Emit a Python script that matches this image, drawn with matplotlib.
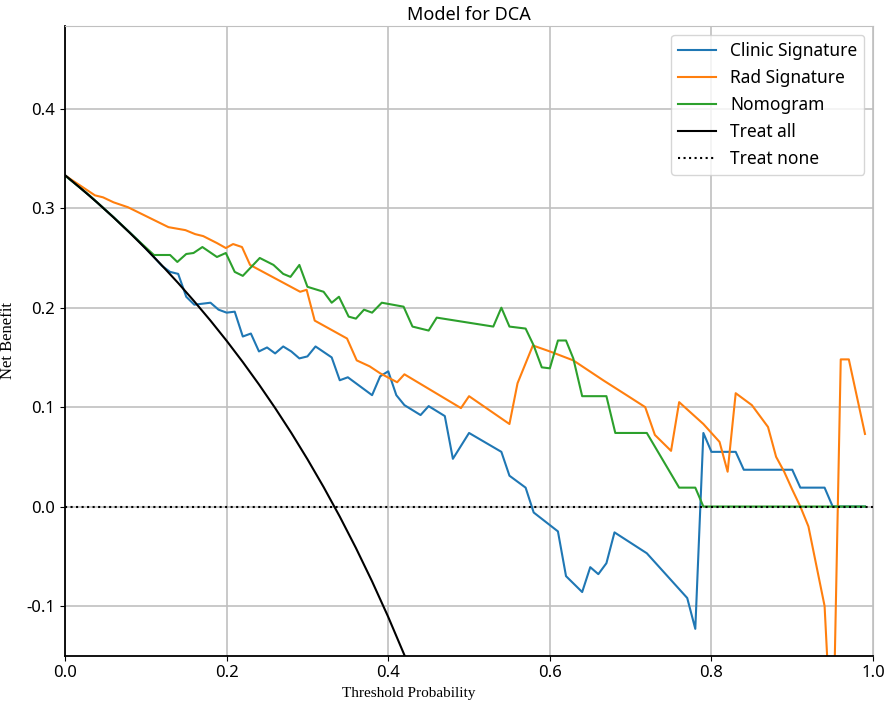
import matplotlib
matplotlib.use('Agg')
import matplotlib.pyplot as plt

plt.rcParams['font.family'] = ['Noto Sans', 'DejaVu Sans']
plt.rcParams['axes.unicode_minus'] = False

# threshold / net benefit
clinic_x = [0.0, 0.03, 0.06, 0.09, 0.11, 0.12, 0.13, 0.14, 0.15, 0.16, 0.17, 0.18,
            0.19, 0.20, 0.21, 0.22, 0.23, 0.24, 0.25, 0.26, 0.27, 0.28, 0.29, 0.30,
            0.31, 0.33, 0.34, 0.35, 0.38, 0.39, 0.40, 0.41, 0.42, 0.44, 0.45, 0.47,
            0.48, 0.50, 0.54, 0.55, 0.57, 0.58, 0.61, 0.62, 0.64, 0.65, 0.66, 0.67,
            0.68, 0.72, 0.75, 0.77, 0.78, 0.79, 0.80, 0.83, 0.84, 0.90, 0.91, 0.94,
            0.95, 0.99]
clinic_y = [0.333, 0.313, 0.291, 0.268, 0.251, 0.242, 0.236, 0.234, 0.211, 0.203,
            0.204, 0.205, 0.198, 0.195, 0.196, 0.171, 0.174, 0.156, 0.160, 0.154,
            0.161, 0.156, 0.149, 0.151, 0.161, 0.150, 0.127, 0.130, 0.112, 0.131,
            0.136, 0.112, 0.102, 0.092, 0.101, 0.091, 0.048, 0.074, 0.055, 0.031,
            0.019, -0.006, -0.025, -0.070, -0.086, -0.061, -0.068, -0.057, -0.026,
            -0.047, -0.074, -0.092, -0.123, 0.074, 0.055, 0.055, 0.037, 0.037,
            0.019, 0.019, 0.0, 0.0]

rad_x = [0.0, 0.037, 0.047, 0.06, 0.078, 0.128, 0.149, 0.161, 0.171, 0.188, 0.199,
         0.208, 0.219, 0.229, 0.291, 0.299, 0.309, 0.349, 0.361, 0.377, 0.39, 0.411,
         0.42, 0.49, 0.50, 0.55, 0.56, 0.579, 0.60, 0.629, 0.666, 0.695, 0.718,
         0.73, 0.75, 0.76, 0.79, 0.81, 0.82, 0.83, 0.85, 0.87, 0.88, 0.89, 0.90,
         0.91, 0.92, 0.93, 0.94, 0.95, 0.96, 0.97, 0.99]
rad_y = [0.333, 0.313, 0.311, 0.306, 0.301, 0.281, 0.278, 0.274, 0.272, 0.265, 0.260,
         0.264, 0.261, 0.243, 0.216, 0.218, 0.187, 0.169, 0.147, 0.141, 0.134, 0.125,
         0.133, 0.099, 0.111, 0.083, 0.124, 0.162, 0.156, 0.147, 0.127, 0.112, 0.100,
         0.072, 0.056, 0.105, 0.083, 0.065, 0.035, 0.114, 0.102, 0.080, 0.050, 0.035,
         0.017, 0.0, -0.020, -0.060, -0.100, -0.260, 0.148, 0.148, 0.073]

nomo_x = [0.0, 0.03, 0.06, 0.09, 0.11, 0.13, 0.139, 0.15, 0.159, 0.17, 0.188, 0.199,
          0.21, 0.22, 0.241, 0.258, 0.27, 0.279, 0.29, 0.30, 0.32, 0.33, 0.339,
          0.351, 0.36, 0.37, 0.38, 0.392, 0.419, 0.43, 0.45, 0.46, 0.53, 0.54, 0.55,
          0.57, 0.58, 0.59, 0.60, 0.61, 0.62, 0.629, 0.64, 0.67, 0.681, 0.72, 0.76,
          0.78, 0.79, 0.99]
nomo_y = [0.333, 0.313, 0.291, 0.268, 0.253, 0.253, 0.246, 0.254, 0.255, 0.261,
          0.251, 0.255, 0.236, 0.232, 0.250, 0.243, 0.234, 0.231, 0.243, 0.221,
          0.216, 0.205, 0.211, 0.191, 0.189, 0.198, 0.195, 0.205, 0.201, 0.181,
          0.177, 0.190, 0.181, 0.200, 0.181, 0.179, 0.162, 0.140, 0.139, 0.167,
          0.167, 0.149, 0.111, 0.111, 0.074, 0.074, 0.019, 0.019, 0.0, 0.0]

all_x = [0.0, 0.02, 0.04, 0.06, 0.08, 0.10, 0.12, 0.14, 0.16, 0.18, 0.20, 0.22,
         0.24, 0.26, 0.28, 0.30, 0.32, 0.34, 0.36, 0.38, 0.40, 0.42, 0.44]
all_y = [0.3333, 0.3197, 0.3056, 0.2908, 0.2754, 0.2593, 0.2424, 0.2248, 0.2063,
         0.1870, 0.1667, 0.1453, 0.1228, 0.0991, 0.0741, 0.0476, 0.0196, -0.0101,
         -0.0417, -0.0753, -0.1111, -0.1494, -0.1905]

none_x = [0.0, 1.0]
none_y = [0.0, 0.0]

fig = plt.figure(figsize=(8.86, 7.07), dpi=100)
ax = fig.add_axes([0.0734, 0.0726, 0.912, 0.8906])

ax.plot(clinic_x, clinic_y, color='#1f77b4', lw=1.5, label='Clinic Signature')
ax.plot(rad_x, rad_y, color='#ff7f0e', lw=1.5, label='Rad Signature')
ax.plot(nomo_x, nomo_y, color='#2ca02c', lw=1.5, label='Nomogram')
ax.plot(all_x, all_y, color='black', lw=1.5, label='Treat all')
ax.plot(none_x, none_y, color='black', lw=1.5, ls=':', label='Treat none')

ax.set_xlim(0, 1)
ax.set_ylim(-0.15, 0.4833)
ax.set_xticks([0.0, 0.2, 0.4, 0.6, 0.8, 1.0])
ax.set_yticks([-0.1, 0.0, 0.1, 0.2, 0.3, 0.4])
ax.tick_params(labelsize=12)
ax.grid(True, color='#c0c0c0', lw=1.2)
ax.set_axisbelow(True)
for s in ['top', 'right']:
    ax.spines[s].set_color('#c0c0c0')
for s in ['left', 'bottom']:
    ax.spines[s].set_linewidth(1.3)

ax.set_xlabel('Threshold Probability', family='Liberation Serif', fontsize=11)
ax.xaxis.set_label_coords(0.425, -0.05)
ax.set_ylabel('Net Benefit', family='Liberation Serif', fontsize=12)
ax.yaxis.set_label_coords(-0.061, 0.5)
ax.set_title('Model for DCA', fontsize=13, pad=4)
ax.legend(loc='upper right', fontsize=12.5, handlelength=2.2, labelspacing=0.52)

fig.savefig('out.png', dpi=100)
